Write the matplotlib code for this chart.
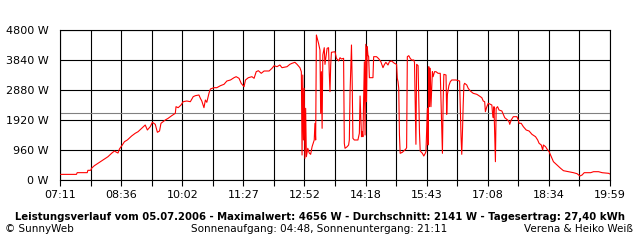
import matplotlib
matplotlib.use("Agg")
import matplotlib.pyplot as plt
import numpy as np

# minutes after midnight and power in W
minutes = [432, 454, 455, 469, 470, 474, 475, 479, 484, 489, 493, 498, 503, 507, 510, 512, 514, 518, 521, 525,
           526, 531, 536, 540, 545, 550, 553, 557, 560, 564, 567, 570, 572, 578, 582, 587, 592, 593, 596, 600,
           603, 608, 613, 617, 620, 625, 627, 629, 632, 634, 636, 639, 641, 646, 650, 655, 660, 664, 669, 674,
           677, 681, 684, 688, 690, 694, 699, 702, 705, 708, 712, 716, 723, 727, 730, 734, 738, 741, 748, 752,
           755, 759, 762, 766, 768, 769, 770, 771, 772, 773, 774, 775, 777, 779, 781, 783, 786, 787, 788, 789,
           790, 792, 794, 795, 796, 797, 798, 800, 801, 804, 806, 807, 808, 809, 810, 815, 817, 820, 822, 824,
           827, 828, 829, 832, 834, 835, 836, 838, 839, 840, 842, 847, 849, 850, 852, 853, 854, 856, 857, 858,
           859, 860, 861, 862, 863, 868, 869, 873, 876, 879, 882, 884, 886, 889, 891, 894, 898, 901, 902, 903,
           904, 905, 906, 909, 911, 914, 915, 916, 918, 920, 922, 925, 926, 927, 928, 929, 931, 933, 934, 937,
           939, 941, 942, 944, 945, 946, 947, 948, 949, 951, 952, 954, 956, 959, 962, 963, 965, 966, 967, 970,
           971, 972, 974, 976, 978, 984, 989, 991, 992, 993, 994, 995, 996, 999, 1001, 1004, 1008, 1013, 1016, 1020,
           1022, 1024, 1025, 1027, 1029, 1034, 1035, 1036, 1037, 1039, 1040, 1042, 1044, 1048, 1050, 1052, 1056, 1058, 1059, 1061,
           1064, 1069, 1071, 1072, 1075, 1078, 1082, 1086, 1090, 1095, 1098, 1100, 1103, 1105, 1106, 1109, 1111, 1114, 1117, 1120,
           1125, 1130, 1134, 1141, 1148, 1153, 1157, 1160, 1163, 1172, 1176, 1183, 1188, 1197, 1199]
watts = [180, 180, 235, 235, 310, 310, 375, 458, 534, 608, 672, 746, 854, 928, 886, 864, 992, 1120, 1226, 1280,
         1302, 1408, 1494, 1546, 1654, 1760, 1600, 1706, 1846, 1782, 1526, 1568, 1814, 1920, 1974, 2058, 2134, 2346, 2314, 2400,
         2506, 2528, 2506, 2666, 2698, 2720, 2614, 2528, 2314, 2560, 2486, 2774, 2912, 2954, 2954, 3018, 3062, 3168, 3200, 3274,
         3306, 3254, 3094, 2986, 3200, 3274, 3306, 3254, 3466, 3498, 3414, 3488, 3488, 3574, 3658, 3626, 3680, 3594, 3626, 3702,
         3734, 3766, 3702, 3594, 3466, 800, 3360, 1280, 2934, 694, 2294, 746, 1014, 864, 822, 1066, 1280, 1814, 1280, 4640,
         4554, 4374, 4160, 2134, 3466, 1654, 4000, 4234, 3700, 4214, 4234, 3414, 2826, 3680, 4086, 4106, 3894, 3808, 3914, 3872,
         3894, 1174, 1014, 1066, 1120, 1280, 2774, 4320, 3146, 1334, 1280, 1280, 1494, 2688, 1386, 1546, 1386, 3786, 1440, 4342,
         2506, 4266, 4000, 3946, 3274, 3274, 3946, 3946, 3882, 3786, 3594, 3696, 3766, 3680, 3786, 3808, 3734, 3702, 3254, 3146,
         2934, 1440, 854, 886, 928, 992, 1034, 3946, 3978, 3894, 3840, 3840, 3766, 2454, 1142, 3702, 3658, 1494, 928, 854,
         768, 854, 906, 2294, 1120, 3626, 2346, 3574, 2346, 3466, 3306, 3466, 3466, 3414, 3414, 2560, 854, 2506, 3382, 3360,
         2102, 2742, 3018, 3146, 3200, 3200, 3168, 1386, 822, 1546, 2400, 3040, 3094, 3040, 2934, 2848, 2774, 2742, 2698, 2634,
         2528, 2506, 2186, 2346, 2454, 2400, 2134, 1994, 2346, 586, 2294, 2346, 2240, 2208, 2102, 1994, 1920, 1866, 1782, 1920,
         2026, 2026, 1920, 1814, 1814, 1706, 1600, 1568, 1462, 1386, 1280, 1174, 1120, 960, 1120, 1066, 992, 906, 746, 586,
         480, 374, 298, 266, 234, 202, 128, 160, 234, 234, 266, 266, 234, 214, 192]

average = 2141
y_ticks = [0, 960, 1920, 2880, 3840, 4800]
start_min = 431
end_min = 1199

fig = plt.figure(figsize=(6.4, 2.4), dpi=100)
ax = fig.add_axes([60 / 640, 60 / 240, 550 / 640, 150 / 240])

x_ticks = np.linspace(start_min, end_min, 19)
x_labels = []
for i, m in enumerate(x_ticks):
    if i % 2 == 0:
        mm = int(round(m))
        x_labels.append('%02d:%02d' % (mm // 60, mm % 60))
    else:
        x_labels.append('')

ax.set_xlim(start_min, end_min)
ax.set_ylim(0, 4800)
ax.set_xticks(x_ticks)
ax.set_xticklabels(x_labels)
ax.set_yticks(y_ticks)
ax.set_yticklabels(['%d W' % v for v in y_ticks])
ax.grid(True, color='black', linewidth=0.8)
ax.set_axisbelow(True)
ax.axhline(average, color='#808080', linewidth=0.8, zorder=1.5)
ax.plot(minutes, watts, color='red', linewidth=0.8, zorder=3)

for s in ax.spines.values():
    s.set_linewidth(0.8)
ax.tick_params(axis='x', length=4, width=0.8, pad=3, labelsize=8)
ax.tick_params(axis='y', length=0, pad=8, labelsize=8)

fig.text(0.5, 1 - 217 / 240,
         'Leistungsverlauf vom 05.07.2006 - Maximalwert: 4656 W - Durchschnitt: 2141 W - Tagesertrag: 27,40 kWh',
         ha='center', va='center', fontsize=7.3, fontweight='bold')
fig.text(5 / 640, 1 - 229 / 240, '© SunnyWeb', ha='left', va='center', fontsize=7.5)
fig.text(319 / 640, 1 - 229 / 240, 'Sonnenaufgang: 04:48, Sonnenuntergang: 21:11',
         ha='center', va='center', fontsize=7.5)
fig.text(633 / 640, 1 - 229 / 240, 'Verena & Heiko Weiß', ha='right', va='center', fontsize=7.5)

plt.savefig('out.png', dpi=100)
